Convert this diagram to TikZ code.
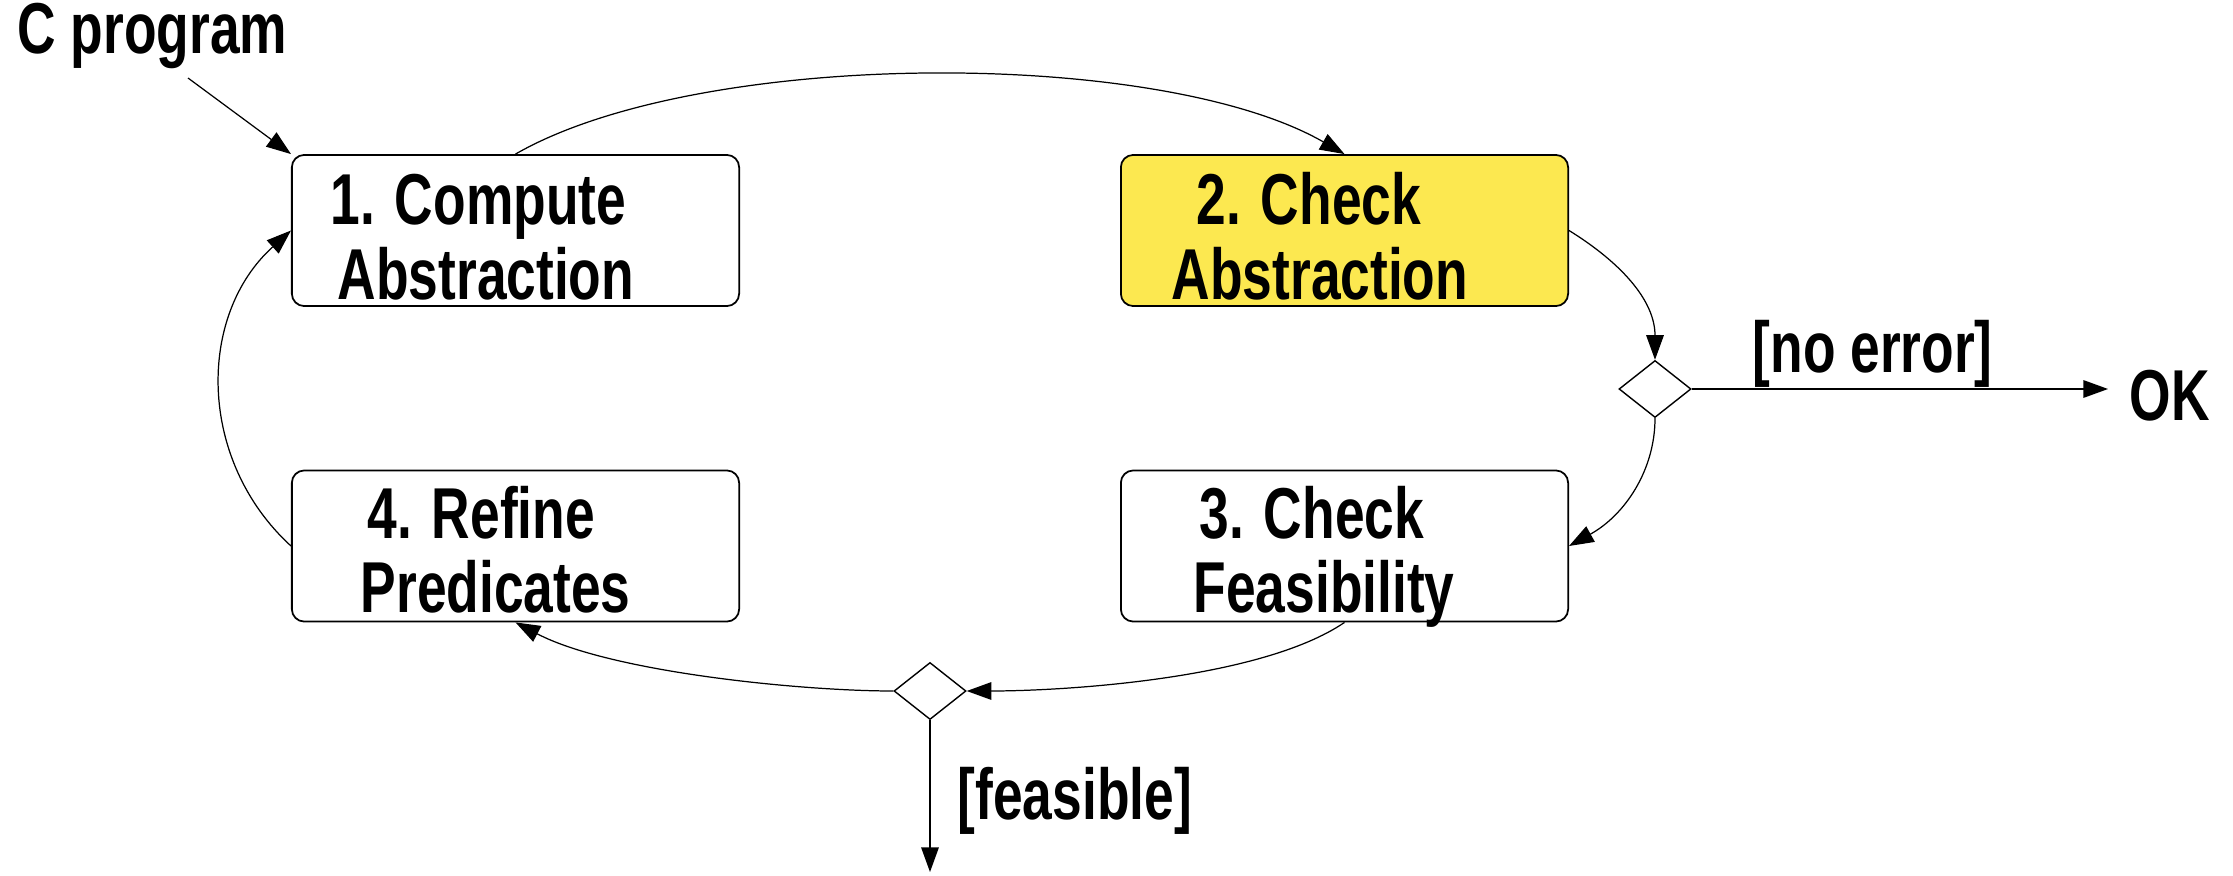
\documentclass[tikz,border=0pt]{standalone}
\usepackage{fontspec}
\setmainfont{Liberation Sans}[FakeStretch=0.74]
\usetikzlibrary{arrows.meta,shapes.geometric}
\definecolor{boxyellow}{RGB}{252,232,80}
\tikzset{
  stepbox/.style={draw,rounded corners=3.5pt,line width=0.5pt,minimum width=4.47cm,minimum height=1.51cm,inner sep=0pt},
  lbl/.style={anchor=base west,inner sep=0pt,font=\fontsize{20.5}{24}\selectfont\bfseries},
  choice/.style={draw,diamond,line width=0.4pt,minimum width=0.72cm,minimum height=0.57cm,inner sep=0pt,fill=white},
  flow/.style={line width=0.35pt,-{Triangle[length=7pt,width=5pt]}},
}
\begin{document}
\begin{tikzpicture}[x=0.01cm,y=0.01cm]
\useasboundingbox (0,0) rectangle (2233,-876);
% boxes
\node[stepbox] (b1) at (515.5,-230.5) {};
\node[stepbox,fill=boxyellow] (b2) at (1344.5,-230.5) {};
\node[stepbox] (b3) at (1344.5,-546) {};
\node[stepbox] (b4) at (515.5,-546) {};
% box texts
\node[lbl] (t1a) at (330,-225) {1. Compute};
\node[lbl] (t1b) at (337,-300) {Abstraction};
\node[lbl] (t2a) at (1196,-225) {2. Check};
\node[lbl] (t2b) at (1171,-300) {Abstraction};
\node[lbl] (t3a) at (1199,-538) {3. Check};
\node[lbl] (t3b) at (1193,-612) {Feasibility};
\node[lbl] (t4a) at (367,-538) {4. Refine};
\node[lbl] (t4b) at (360,-612) {Predicates};
% other labels
\node[lbl] (cprog) at (17,-54) {C program};
\node[lbl] (noerr) at (1752,-373) {[no error]};
\node[lbl] (ok) at (2129,-420) {OK};
\node[lbl] (feas) at (957,-819) {[feasible]};
% decisions
\node[choice] (d1) at (1655,-389) {};
\node[choice] (d2) at (930,-691) {};
\coordinate (cstart) at (188,-78);
\coordinate (okend) at (2108,-389);
\coordinate (feasend) at (930,-872);
% connectors
\draw[flow] (cstart) -- (b1.north west);
\draw[flow] (b1.north) .. controls (700,-48) and (1160,-48) .. (b2.north);
\draw[flow] (b2.east) .. controls (1620,-262) and (1655,-300) .. (d1.north);
\draw[flow] (d1.east) -- (okend);
\draw[flow] (d1.south) .. controls (1655,-470) and (1625,-515) .. (b3.east);
\draw[flow] (b3.south) .. controls (1260,-680) and (1060,-691) .. (d2.east);
\draw[flow] (d2.west) .. controls (800,-691) and (610,-672) .. (b4.south);
\draw[flow] (b4.west) .. controls (197,-460) and (197,-315) .. (b1.west);
\draw[flow] (d2.south) -- (feasend);
\end{tikzpicture}
\end{document}
